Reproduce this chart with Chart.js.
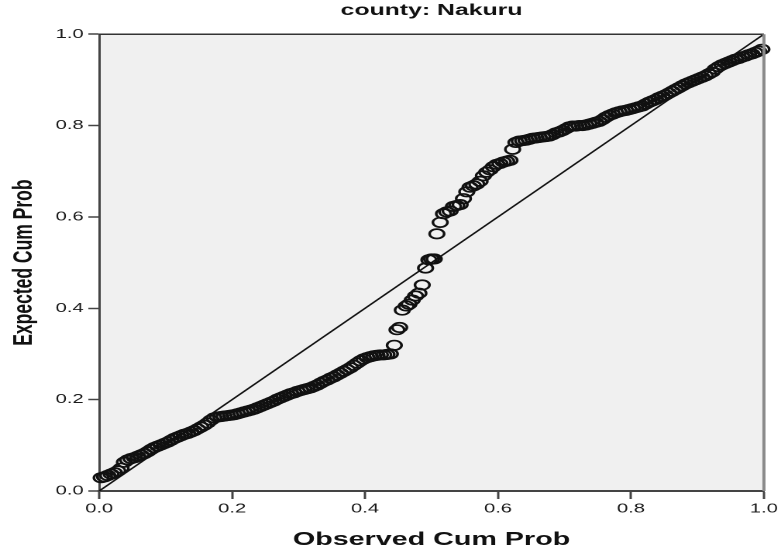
<!DOCTYPE html>
<html>
<head>
<meta charset="utf-8">
<script src="https://cdn.jsdelivr.net/npm/chart.js@4.4.1/dist/chart.umd.min.js"></script>
<style>
  html, body { margin: 0; padding: 0; background: #ffffff; overflow: hidden; }
  #wrap { position: absolute; left: 0; top: 0; width: 504px; height: 552px; transform: scaleX(1.5496); transform-origin: 0 0; }
</style>
</head>
<body>
<div id="wrap"><canvas id="c"></canvas></div>
<script>
// Observed cumulative probability (x) and expected cumulative probability (y)
const observedCumProb = [
  0.003,0.008,0.013,0.018,0.023,0.028,0.033,0.038,0.043,0.048,
  0.053,0.058,0.063,0.068,0.073,0.078,0.083,0.088,0.093,0.098,
  0.103,0.108,0.113,0.118,0.123,0.128,0.133,0.138,0.143,0.148,
  0.153,0.158,0.163,0.168,0.173,0.178,0.183,0.188,0.193,0.198,
  0.203,0.208,0.213,0.218,0.223,0.228,0.233,0.238,0.243,0.248,
  0.253,0.258,0.263,0.268,0.273,0.278,0.283,0.288,0.293,0.298,
  0.303,0.308,0.313,0.318,0.323,0.328,0.333,0.338,0.343,0.348,
  0.353,0.358,0.363,0.368,0.373,0.378,0.383,0.388,0.393,0.398,
  0.403,0.408,0.413,0.418,0.423,0.428,0.433,0.438,
  0.444,0.448,0.452,0.456,0.462,0.466,0.471,0.476,0.481,0.486,
  0.491,0.496,0.500,0.504,0.508,0.513,0.518,0.523,0.528,0.533,
  0.538,0.543,0.548,0.553,0.558,0.563,0.568,0.573,0.578,0.583,
  0.588,0.593,0.598,0.603,0.608,0.613,0.618,0.622,0.627,0.632,
  0.637,0.642,0.647,0.652,0.657,0.662,0.667,0.672,0.677,0.682,
  0.687,0.692,0.697,0.702,0.707,0.712,0.717,0.722,0.727,0.732,
  0.737,0.742,0.747,0.752,0.757,0.762,0.767,0.772,0.777,0.782,
  0.787,0.792,0.797,0.802,0.807,0.812,0.817,0.822,0.827,0.832,
  0.837,0.842,0.847,0.852,0.857,0.862,0.867,0.872,0.877,0.882,
  0.887,0.892,0.897,0.902,0.907,0.912,0.917,0.922,0.927,0.932,
  0.937,0.942,0.947,0.952,0.957,0.962,0.967,0.972,0.977,0.982,
  0.987,0.992,0.997
];
const expectedCumProb = [
  0.029,0.031,0.034,0.037,0.040,0.044,0.050,0.063,0.068,0.071,
  0.073,0.076,0.079,0.082,0.086,0.091,0.095,0.098,0.101,0.104,
  0.107,0.111,0.115,0.118,0.121,0.124,0.126,0.129,0.132,0.136,
  0.140,0.144,0.149,0.155,0.160,0.162,0.163,0.164,0.165,0.166,
  0.167,0.169,0.171,0.173,0.175,0.177,0.179,0.182,0.185,0.188,
  0.191,0.194,0.197,0.201,0.204,0.207,0.210,0.213,0.215,0.218,
  0.220,0.222,0.224,0.226,0.229,0.232,0.236,0.240,0.243,0.247,
  0.250,0.254,0.258,0.262,0.266,0.270,0.275,0.280,0.285,0.289,
  0.292,0.294,0.296,0.297,0.298,0.298,0.299,0.300,
  0.319,0.353,0.358,0.396,0.405,0.409,0.418,0.427,0.433,0.451,
  0.488,0.506,0.508,0.508,0.563,0.588,0.607,0.611,0.613,0.623,
  0.625,0.627,0.640,0.655,0.665,0.668,0.672,0.678,0.690,0.698,
  0.703,0.710,0.715,0.717,0.720,0.722,0.724,0.748,0.763,0.766,
  0.767,0.768,0.770,0.772,0.773,0.774,0.775,0.776,0.777,0.780,
  0.784,0.786,0.789,0.793,0.797,0.799,0.799,0.800,0.800,0.801,
  0.803,0.805,0.807,0.809,0.813,0.818,0.822,0.825,0.828,0.830,
  0.832,0.833,0.835,0.837,0.839,0.841,0.843,0.847,0.851,0.854,
  0.857,0.861,0.864,0.867,0.871,0.875,0.879,0.883,0.887,0.891,
  0.894,0.897,0.900,0.903,0.906,0.909,0.913,0.917,0.924,0.929,
  0.933,0.936,0.939,0.942,0.945,0.947,0.950,0.952,0.955,0.957,
  0.960,0.963,0.967
];
// Diagonal reference line endpoints
const refLineX = [0, 1];
const refLineY = [0, 1];
const tickValues = [0, 0.2, 0.4, 0.6, 0.8, 1.0];

const chartTitle = 'county: Nakuru';
const xTitle = 'Observed Cum Prob';
const yTitle = 'Expected Cum Prob';

const FONT = "'Liberation Sans', Arial, sans-serif";

const pointsData = observedCumProb.map((x, i) => ({ x: x, y: expectedCumProb[i] }));
const lineData = refLineX.map((x, i) => ({ x: x, y: refLineY[i] }));

const plotFrame = {
  id: 'plotFrame',
  beforeDraw(chart) {
    const { ctx, chartArea: a } = chart;
    ctx.save();
    ctx.fillStyle = '#f0f0f0';
    ctx.fillRect(a.left, a.top, a.right - a.left, a.bottom - a.top);
    ctx.restore();
  },
  afterDraw(chart) {
    const { ctx, chartArea: a } = chart;
    ctx.save();
    ctx.strokeStyle = '#333333';
    ctx.lineWidth = 1.5;
    ctx.beginPath();
    ctx.moveTo(a.left, a.top);
    ctx.lineTo(a.right, a.top);
    ctx.stroke();
    ctx.strokeStyle = '#8a8a8a';
    ctx.lineWidth = 2;
    ctx.beginPath();
    ctx.moveTo(a.right, a.top);
    ctx.lineTo(a.right, a.bottom);
    ctx.stroke();
    ctx.restore();
  }
};

new Chart(document.getElementById('c'), {
  type: 'scatter',
  data: {
    datasets: [
      {
        label: 'Observed',
        data: pointsData,
        showLine: false,
        pointStyle: 'circle',
        pointRadius: 4.7,
        pointBorderWidth: 1.7,
        pointBorderColor: '#111111',
        pointBackgroundColor: 'rgba(0,0,0,0)',
        clip: false,
        order: 2
      },
      {
        label: 'Reference',
        data: lineData,
        showLine: true,
        borderColor: '#111111',
        borderWidth: 1.3,
        pointRadius: 0,
        fill: false,
        order: 1
      }
    ]
  },
  options: {
    responsive: true,
    maintainAspectRatio: false,
    animation: false,
    devicePixelRatio: 2,
    layout: { padding: { left: 0, right: 9, top: 0, bottom: 0 } },
    plugins: {
      legend: { display: false },
      tooltip: { enabled: false },
      title: {
        display: true,
        text: chartTitle,
        fullSize: false,
        color: '#111111',
        font: { family: FONT, size: 16, weight: 'bold' },
        padding: { top: 1, bottom: 14 }
      }
    },
    scales: {
      x: {
        type: 'linear',
        min: 0,
        max: 1,
        afterFit: (s) => { s.height = 61; },
        afterBuildTicks: (s) => { s.ticks = tickValues.map(v => ({ value: v })); },
        ticks: {
          color: '#1a1a1a',
          font: { family: FONT, size: 13 },
          padding: 2,
          maxRotation: 0,
          callback: (v) => Number(v).toFixed(1)
        },
        grid: {
          drawOnChartArea: false,
          drawTicks: true,
          tickLength: 8,
          tickWidth: 1.5,
          tickColor: '#444444'
        },
        border: { display: true, color: '#444444', width: 2 },
        title: {
          display: true,
          text: xTitle,
          color: '#111111',
          font: { family: FONT, size: 18.5, weight: 'bold' },
          padding: { top: 0, bottom: 1 }
        }
      },
      y: {
        type: 'linear',
        min: 0,
        max: 1,
        afterFit: (s) => { s.width = 64; },
        afterBuildTicks: (s) => { s.ticks = tickValues.map(v => ({ value: v })); },
        ticks: {
          color: '#1a1a1a',
          font: { family: FONT, size: 13 },
          padding: 3,
          callback: (v) => Number(v).toFixed(1)
        },
        grid: {
          drawOnChartArea: false,
          drawTicks: true,
          tickLength: 7,
          tickWidth: 1.5,
          tickColor: '#444444'
        },
        border: { display: true, color: '#444444', width: 1.5 },
        title: {
          display: true,
          text: yTitle,
          color: '#111111',
          font: { family: FONT, size: 17.5, weight: 'bold' },
          padding: { top: 5, bottom: 0 }
        }
      }
    }
  },
  plugins: [plotFrame]
});
</script>
</body>
</html>
